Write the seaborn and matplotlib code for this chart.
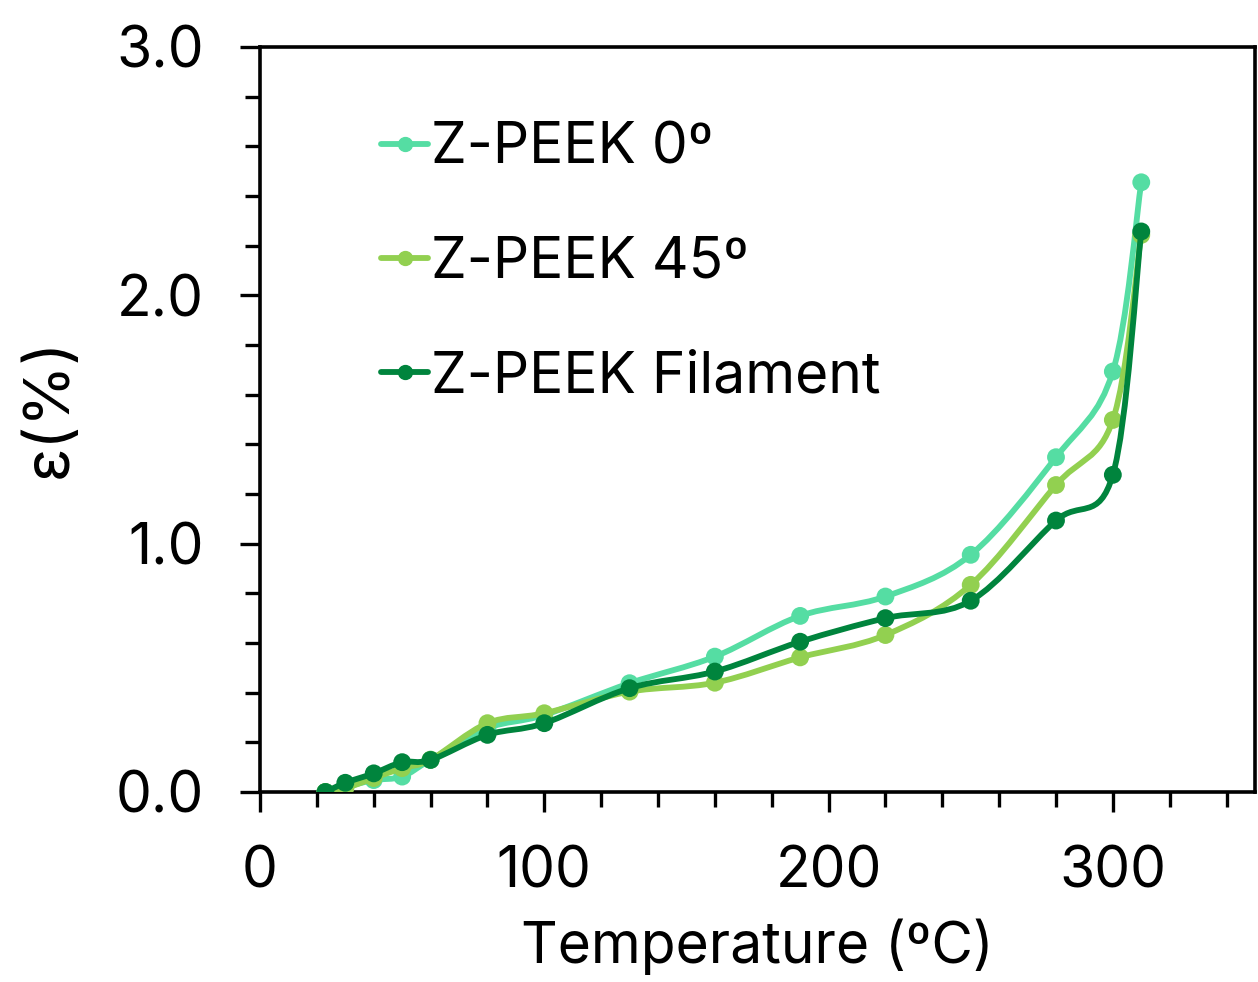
import numpy as np
import pandas as pd
import matplotlib
matplotlib.use("Agg")
import matplotlib.pyplot as plt
import seaborn as sns
from matplotlib.path import Path
from matplotlib.patches import PathPatch
from matplotlib.lines import Line2D
from matplotlib.ticker import MultipleLocator

# ---- data ----
temperature = [23, 30, 40, 50, 60, 80, 100, 130, 160, 190, 220, 250, 280, 300, 310]
strain_0 = [0.0, 0.02, 0.048, 0.062, 0.13, 0.257, 0.31, 0.438, 0.545, 0.709, 0.787, 0.955, 1.348, 1.693, 2.455]
strain_45 = [0.0, 0.015, 0.056, 0.096, 0.13, 0.277, 0.317, 0.404, 0.44, 0.542, 0.632, 0.834, 1.236, 1.498, 2.243]
strain_fil = [0.0, 0.037, 0.075, 0.12, 0.129, 0.23, 0.277, 0.418, 0.485, 0.605, 0.70, 0.77, 1.093, 1.277, 2.257]
series_names = ["Z-PEEK 0º", "Z-PEEK 45º", "Z-PEEK Filament"]
colors = ["#55DDA3", "#92D050", "#00843D"]

sns.set_theme(style="ticks")
plt.rcParams['font.family'] = ['Inter', 'DejaVu Sans']

fig = plt.figure(figsize=(12.58, 9.82), dpi=100)
ax = fig.add_axes([0.2067, 0.1935, 0.7909, 0.7587])

def smooth_path(xs, ys):
    pts = np.column_stack([xs, ys]).astype(float)
    n = len(pts)
    verts = [pts[0]]
    codes = [Path.MOVETO]
    for i in range(n - 1):
        p0 = pts[i - 1] if i > 0 else pts[i]
        p1 = pts[i]
        p2 = pts[i + 1]
        p3 = pts[i + 2] if i + 2 < n else pts[i + 1]
        c1 = p1 + (p2 - p0) / 6.0
        c2 = p2 - (p3 - p1) / 6.0
        verts += [c1, c2, p2]
        codes += [Path.CURVE4] * 3
    return Path(verts, codes)

all_series = [strain_0, strain_45, strain_fil]
for k, (name, ys, col) in enumerate(zip(series_names, all_series, colors)):
    patch = PathPatch(smooth_path(temperature, ys), facecolor='none', edgecolor=col,
                      lw=4.2, capstyle='round', joinstyle='round', zorder=3 + 2 * k)
    ax.add_patch(patch)
    df = pd.DataFrame({"T": temperature, "e": ys})
    sns.scatterplot(data=df, x="T", y="e", ax=ax, color=col, s=165, edgecolor='none',
                    linewidth=0, zorder=4 + 2 * k, legend=False)

ax.set_xlim(0, 350)
ax.set_ylim(0, 3.0)
ax.xaxis.set_major_locator(MultipleLocator(100))
ax.xaxis.set_minor_locator(MultipleLocator(20))
ax.yaxis.set_major_locator(MultipleLocator(1.0))
ax.yaxis.set_minor_locator(MultipleLocator(0.2))
ax.yaxis.set_major_formatter(matplotlib.ticker.FormatStrFormatter('%.1f'))

for sp in ax.spines.values():
    sp.set_linewidth(2.6)
    sp.set_color('black')
    sp.set_visible(True)

ax.tick_params(which='major', direction='out', length=14.4, width=2.4, color='black',
               labelsize=41, pad=26, labelcolor='black')
ax.tick_params(axis='x', which='major', pad=24)
ax.tick_params(which='minor', direction='out', length=10.8, width=2.4, color='black')
ax.tick_params(axis='x', which='both', top=False)
ax.tick_params(axis='y', which='both', right=False)

ax.set_xlabel("Temperature (ºC)", fontsize=41, color='black', labelpad=14)
ax.set_ylabel("")
fig.text(0.040, 0.585, "ε(%)", rotation=90, fontsize=45, ha='center', va='center', color='black')

handles = [Line2D([0], [0], color=c, lw=4.2, marker='o', markersize=10, solid_capstyle='round')
           for c in colors]
leg = ax.legend(handles, series_names, loc='upper left', bbox_to_anchor=(0.122, 0.90),
                frameon=False, fontsize=41, handlelength=0.82, handletextpad=0.05,
                labelspacing=1.06, borderaxespad=0, borderpad=0)
for t in leg.get_texts():
    t.set_color('black')

fig.savefig("out.png", dpi=100, facecolor='white')
